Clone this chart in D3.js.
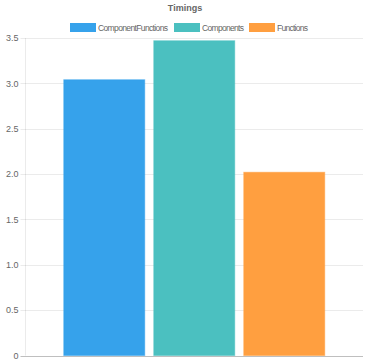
<!DOCTYPE html>
<html>
<head>
<meta charset="utf-8">
<script src="https://cdn.jsdelivr.net/npm/d3@7"></script>
<style>
  body { margin: 0; background: #fff; }
  svg text { font-family: "Liberation Sans", Arial, sans-serif; fill: #666; }
</style>
</head>
<body>
<svg id="chart" width="370" height="364"></svg>
<script>
const seriesNames = ["ComponentFunctions", "Components", "Functions"];
const seriesValues = [3.04, 3.47, 2.02];
const seriesColors = ["rgb(54,162,235)", "rgb(75,192,192)", "rgb(255,159,64)"];
const yTicks = [0, 0.5, 1, 1.5, 2, 2.5, 3, 3.5];
const categories = [""];

const svg = d3.select("svg#chart");

//chart plot area
const area = { left: 25.5, right: 363, top: 38, bottom: 355.5 };

//scale functions
const yScale = d3.scaleLinear().domain([0, 3.5]).range([area.bottom, area.top]);
const xScale = d3.scaleBand().domain(categories).range([area.left, area.right]).paddingInner(0).paddingOuter(0);
const groupWidth = xScale.bandwidth() * 0.8;
const inner = d3.scaleBand().domain(seriesNames)
  .range([xScale("") + (xScale.bandwidth() - groupWidth) / 2, xScale("") + (xScale.bandwidth() + groupWidth) / 2])
  .paddingInner(0.1).paddingOuter(0.05);

//gridlines
svg.append("g")
  .selectAll("line")
  .data(yTicks)
  .join("line")
  .attr("x1", area.left - 5)
  .attr("x2", area.right)
  .attr("y1", d => Math.round(yScale(d)) + 0.5)
  .attr("y2", d => Math.round(yScale(d)) + 0.5)
  .attr("stroke", d => d === 0 ? "rgba(0,0,0,0.25)" : "rgba(0,0,0,0.08)")
  .attr("stroke-width", 1);

svg.append("line")
  .attr("x1", area.left).attr("x2", area.left)
  .attr("y1", area.top).attr("y2", area.bottom)
  .attr("stroke", "rgba(0,0,0,0.08)");

//tick labels
svg.append("g")
  .selectAll("text")
  .data(yTicks)
  .join("text")
  .attr("x", area.left - 7)
  .attr("y", d => yScale(d))
  .attr("dy", "0.35em")
  .attr("text-anchor", "end")
  .attr("font-size", 9)
  .text(d => d === 0 ? "0" : d3.format(".1f")(d));

//bars
svg.append("g")
  .selectAll("rect")
  .data(seriesNames.map((n, i) => ({ name: n, value: seriesValues[i], color: seriesColors[i] })))
  .join("rect")
  .attr("x", d => inner(d.name))
  .attr("width", inner.bandwidth())
  .attr("y", d => yScale(d.value))
  .attr("height", d => yScale(0) - yScale(d.value))
  .attr("fill", d => d.color)
  .attr("stroke", d => d.color.replace("rgb", "rgba").replace(")", ",0.5)"))
  .attr("stroke-width", 1);

//title
svg.append("text")
  .attr("x", 185)
  .attr("y", 11)
  .attr("text-anchor", "middle")
  .attr("font-size", 9)
  .attr("font-weight", "bold")
  .text("Timings");

//legend
const legendX = [70, 174, 249];
const legend = svg.append("g")
  .selectAll("g")
  .data(seriesNames)
  .join("g")
  .attr("transform", (d, i) => `translate(${legendX[i]}, 23)`);

legend.append("rect")
  .attr("width", 26).attr("height", 9)
  .attr("fill", (d, i) => seriesColors[i]);

legend.append("text")
  .attr("x", 28)
  .attr("y", 5)
  .attr("dy", "0.35em")
  .attr("font-size", 8.5)
  .attr("textLength", (d, i) => [70, 42, 31][i])
  .attr("lengthAdjust", "spacing")
  .text(d => d);
</script>
</body>
</html>
